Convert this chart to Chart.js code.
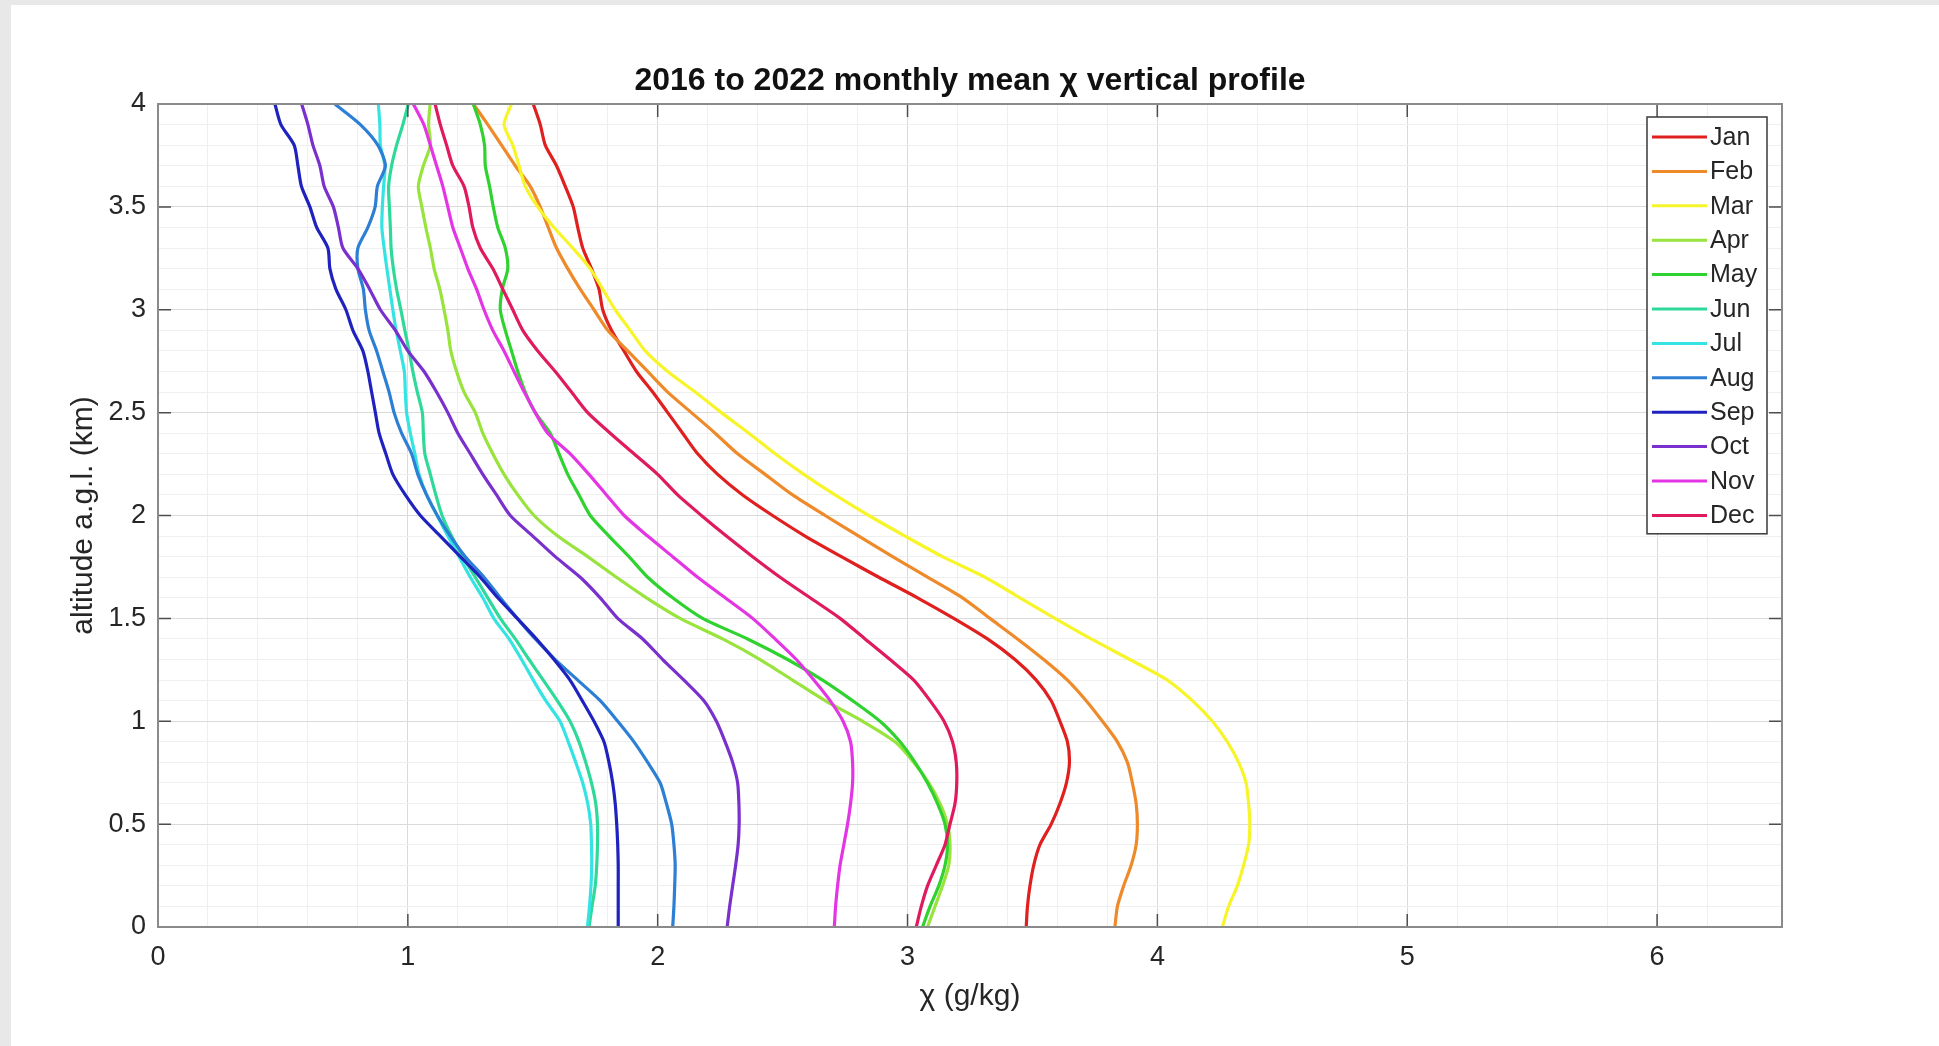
<!DOCTYPE html>
<html>
<head>
<meta charset="utf-8">
<script src="https://cdn.jsdelivr.net/npm/chart.js@4/dist/chart.umd.min.js"></script>
<style>
    html, body { margin: 0; padding: 0; background: #fff; }
    #wrap {
        position: relative;
        width: 1939px;
        height: 1046px;
        box-sizing: border-box;
        border-left: 11px solid #e8e8e8;
        border-top: 5px solid #e8e8e8;
        background: #fff;
    }
    #chart { position: absolute; left: -11px; top: -5px; }
</style>
</head>
<body>
<div id="wrap"><canvas id="chart" width="1939" height="1046"></canvas></div>
<script>
// altitude a.g.l. (km), shared by every monthly profile
const altitudes = [0, 0.1, 0.2, 0.3, 0.4, 0.5, 0.6, 0.7, 0.8, 0.9, 1.0, 1.1, 1.2, 1.3, 1.4, 1.5, 1.6, 1.7, 1.8, 1.9,
    2.0, 2.1, 2.2, 2.3, 2.4, 2.5, 2.6, 2.7, 2.8, 2.9, 3.0, 3.1, 3.2, 3.3, 3.4, 3.5, 3.6, 3.7, 3.8, 3.9, 4.0];

const months = ['Jan', 'Feb', 'Mar', 'Apr', 'May', 'Jun', 'Jul', 'Aug', 'Sep', 'Oct', 'Nov', 'Dec'];

// mixing ratio chi (g/kg) at each altitude
const jan = [3.475, 3.48, 3.49, 3.505, 3.53, 3.575, 3.61, 3.636, 3.648, 3.64, 3.61, 3.575, 3.515, 3.43, 3.32, 3.185, 3.04, 2.885, 2.735, 2.59,
    2.46, 2.34, 2.24, 2.16, 2.10, 2.04, 1.98, 1.915, 1.865, 1.815, 1.78, 1.765, 1.735, 1.70, 1.68, 1.662, 1.63, 1.595, 1.55, 1.53, 1.502];
const feb = [3.83, 3.84, 3.865, 3.895, 3.915, 3.92, 3.915, 3.90, 3.88, 3.84, 3.78, 3.715, 3.64, 3.545, 3.44, 3.33, 3.22, 3.08, 2.94, 2.805,
    2.67, 2.54, 2.43, 2.32, 2.23, 2.135, 2.04, 1.96, 1.88, 1.80, 1.745, 1.69, 1.64, 1.595, 1.562, 1.53, 1.49, 1.43, 1.375, 1.32, 1.262];
const mar = [4.26, 4.285, 4.32, 4.345, 4.365, 4.37, 4.365, 4.355, 4.325, 4.28, 4.22, 4.14, 4.04, 3.89, 3.735, 3.59, 3.45, 3.31, 3.14, 2.99,
    2.845, 2.71, 2.585, 2.47, 2.365, 2.255, 2.15, 2.04, 1.95, 1.89, 1.83, 1.78, 1.73, 1.66, 1.585, 1.52, 1.47, 1.445, 1.42, 1.385, 1.415];
const apr = [3.08, 3.11, 3.14, 3.165, 3.17, 3.16, 3.13, 3.085, 3.025, 2.95, 2.82, 2.67, 2.54, 2.41, 2.26, 2.09, 1.955, 1.835, 1.72, 1.60,
    1.505, 1.44, 1.385, 1.34, 1.30, 1.27, 1.225, 1.195, 1.172, 1.16, 1.145, 1.128, 1.105, 1.09, 1.072, 1.056, 1.042, 1.062, 1.09, 1.083, 1.089];
const may = [3.06, 3.09, 3.125, 3.15, 3.16, 3.15, 3.12, 3.08, 3.03, 2.97, 2.89, 2.78, 2.66, 2.52, 2.36, 2.18, 2.06, 1.96, 1.885, 1.805,
    1.73, 1.685, 1.64, 1.605, 1.57, 1.51, 1.47, 1.44, 1.415, 1.39, 1.37, 1.378, 1.40, 1.39, 1.36, 1.342, 1.327, 1.31, 1.307, 1.29, 1.262];
const jun = [1.725, 1.737, 1.75, 1.756, 1.759, 1.759, 1.752, 1.735, 1.712, 1.685, 1.649, 1.598, 1.542, 1.485, 1.43, 1.37, 1.32, 1.27, 1.22, 1.175,
    1.137, 1.112, 1.09, 1.068, 1.062, 1.058, 1.038, 1.02, 1.005, 0.988, 0.972, 0.955, 0.942, 0.933, 0.93, 0.926, 0.923, 0.935, 0.955, 0.98, 1.002];
const jul = [1.719, 1.727, 1.733, 1.736, 1.735, 1.732, 1.72, 1.70, 1.672, 1.642, 1.609, 1.552, 1.502, 1.455, 1.405, 1.344, 1.30, 1.25, 1.205, 1.16,
    1.117, 1.075, 1.045, 1.028, 1.01, 0.995, 0.99, 0.986, 0.97, 0.953, 0.94, 0.928, 0.916, 0.905, 0.896, 0.898, 0.903, 0.908, 0.89, 0.888, 0.882];
const aug = [2.06, 2.065, 2.068, 2.07, 2.065, 2.056, 2.035, 2.01, 1.96, 1.905, 1.84, 1.77, 1.68, 1.59, 1.51, 1.438, 1.37, 1.305, 1.23, 1.17,
    1.118, 1.075, 1.04, 1.015, 0.975, 0.945, 0.925, 0.90, 0.875, 0.845, 0.83, 0.822, 0.80, 0.80, 0.84, 0.869, 0.878, 0.91, 0.88, 0.81, 0.708];
const sep = [1.842, 1.842, 1.842, 1.842, 1.84, 1.836, 1.83, 1.82, 1.805, 1.785, 1.745, 1.698, 1.649, 1.585, 1.515, 1.438, 1.36, 1.29, 1.21, 1.13,
    1.05, 0.99, 0.94, 0.912, 0.885, 0.87, 0.855, 0.84, 0.82, 0.78, 0.752, 0.712, 0.688, 0.68, 0.635, 0.608, 0.574, 0.56, 0.545, 0.492, 0.468];
const oct = [2.278, 2.288, 2.30, 2.312, 2.322, 2.326, 2.325, 2.32, 2.30, 2.27, 2.235, 2.185, 2.105, 2.02, 1.94, 1.84, 1.77, 1.69, 1.59, 1.50,
    1.41, 1.355, 1.30, 1.25, 1.20, 1.16, 1.115, 1.065, 1.00, 0.95, 0.89, 0.847, 0.80, 0.74, 0.722, 0.702, 0.665, 0.648, 0.62, 0.60, 0.575];
const nov = [2.707, 2.712, 2.72, 2.73, 2.745, 2.76, 2.772, 2.78, 2.78, 2.772, 2.742, 2.69, 2.625, 2.555, 2.47, 2.38, 2.27, 2.16, 2.06, 1.96,
    1.866, 1.795, 1.725, 1.65, 1.56, 1.51, 1.466, 1.425, 1.385, 1.34, 1.305, 1.275, 1.24, 1.21, 1.18, 1.16, 1.14, 1.115, 1.09, 1.064, 1.022];
const dec = [3.035, 3.055, 3.08, 3.115, 3.15, 3.17, 3.19, 3.197, 3.195, 3.18, 3.146, 3.09, 3.025, 2.93, 2.83, 2.73, 2.61, 2.49, 2.38, 2.275,
    2.175, 2.08, 2.0, 1.905, 1.81, 1.72, 1.655, 1.59, 1.52, 1.46, 1.42, 1.38, 1.34, 1.29, 1.26, 1.245, 1.225, 1.18, 1.155, 1.13, 1.109];

const profiles = [jan, feb, mar, apr, may, jun, jul, aug, sep, oct, nov, dec];

const lineColors = ['#e01f1f', '#ee8a2a', '#f7f52a', '#98e33c', '#2fd22f', '#2fd99a',
    '#36e3e3', '#2c7fd4', '#1f22bf', '#7a30cc', '#e435e4', '#e01a5e'];

const chartTitle = '2016 to 2022 monthly mean \u03c7 vertical profile';

const FONT = "'Liberation Sans', Arial, sans-serif";
const TEXT = '#262626';

const isWhole = v => Math.abs(v - Math.round(v)) < 1e-6;
const isHalf = v => Math.abs(v * 2 - Math.round(v * 2)) < 1e-6;

// title centred over the plot box, not over the whole canvas
const plotTitle = {
    id: 'plotTitle',
    afterDraw(chart) {
        const {ctx, chartArea: a} = chart;
        ctx.save();
        ctx.font = 'bold 32px ' + FONT;
        ctx.fillStyle = '#111';
        ctx.textAlign = 'center';
        ctx.textBaseline = 'middle';
        ctx.fillText(chartTitle, (a.left + a.right) / 2, a.top - 23);
        ctx.restore();
    }
};

// box around the axes with inward ticks on all four sides, like matlab
const axisFrame = {
    id: 'axisFrame',
    afterDatasetsDraw(chart) {
        const {ctx, chartArea: a, scales: {x, y}} = chart;
        const len = 13;
        ctx.save();
        ctx.strokeStyle = '#4d4d4d';
        ctx.lineWidth = 1.5;
        ctx.beginPath();
        x.ticks.filter(t => isWhole(t.value) && t.value > 0 && t.value < 6.5).forEach(t => {
            const px = x.getPixelForValue(t.value);
            ctx.moveTo(px, a.bottom); ctx.lineTo(px, a.bottom - len);
            ctx.moveTo(px, a.top); ctx.lineTo(px, a.top + len);
        });
        y.ticks.filter(t => isHalf(t.value) && t.value > 0 && t.value < 4).forEach(t => {
            const py = y.getPixelForValue(t.value);
            ctx.moveTo(a.left, py); ctx.lineTo(a.left + len, py);
            ctx.moveTo(a.right, py); ctx.lineTo(a.right - len, py);
        });
        ctx.stroke();
        ctx.strokeStyle = '#8a8a8a';
        ctx.lineWidth = 2;
        ctx.strokeRect(a.left, a.top, a.right - a.left, a.bottom - a.top);
        ctx.restore();
    }
};

const monthLegend = {
    id: 'monthLegend',
    afterDraw(chart) {
        const {ctx, chartArea: a} = chart;
        const sets = chart.data.datasets;
        const rowH = 34.4;
        const w = 120;
        const h = rowH * sets.length + 4;
        const left = a.right - 15 - w;
        const top = a.top + 13;
        ctx.save();
        ctx.fillStyle = '#fff';
        ctx.fillRect(left, top, w, h);
        ctx.strokeStyle = '#3a3a3a';
        ctx.lineWidth = 1.5;
        ctx.strokeRect(left, top, w, h);
        ctx.font = '25px ' + FONT;
        ctx.textBaseline = 'middle';
        sets.forEach((ds, i) => {
            const cy = top + 20 + i * rowH;
            ctx.strokeStyle = ds.borderColor;
            ctx.lineWidth = 3;
            ctx.beginPath();
            ctx.moveTo(left + 5, cy);
            ctx.lineTo(left + 60, cy);
            ctx.stroke();
            ctx.fillStyle = TEXT;
            ctx.fillText(ds.label, left + 63, cy + 1);
        });
        ctx.restore();
    }
};

const datasets = months.map((m, i) => ({
    label: m,
    data: altitudes.map((alt, j) => ({x: profiles[i][j], y: alt})),
    borderColor: lineColors[i],
    backgroundColor: lineColors[i],
    borderWidth: 3.2,
    pointRadius: 0,
    showLine: true,
    tension: 0.25,
    order: months.length - 1 - i
}));

new Chart(document.getElementById('chart'), {
    type: 'scatter',
    data: {datasets: datasets},
    options: {
        responsive: false,
        animation: false,
        devicePixelRatio: 1,
        layout: {padding: {left: 0, right: 157, top: 104, bottom: 0}},
        plugins: {
            legend: {display: false},
            tooltip: {enabled: false},
            title: {display: false}
        },
        scales: {
            x: {
                type: 'linear',
                min: 0,
                max: 6.5,
                afterFit: s => { s.height = 119; },
                border: {display: false},
                grid: {
                    drawTicks: false,
                    lineWidth: 1,
                    color: c => isWhole(c.tick.value) ? '#dadada' : '#efefef'
                },
                ticks: {
                    stepSize: 0.2,
                    autoSkip: false,
                    maxRotation: 0,
                    padding: 14,
                    color: TEXT,
                    font: {family: FONT, size: 27},
                    callback: v => (isWhole(v) && v <= 6) ? String(Math.round(v)) : ''
                },
                title: {
                    display: true,
                    text: '\u03c7 (g/kg)',
                    color: TEXT,
                    font: {family: FONT, size: 30},
                    padding: {top: 0, bottom: 31}
                }
            },
            y: {
                type: 'linear',
                min: 0,
                max: 4,
                afterFit: s => { s.width = 158; },
                border: {display: false},
                grid: {
                    drawTicks: false,
                    lineWidth: 1,
                    color: c => isHalf(c.tick.value) ? '#dadada' : '#efefef'
                },
                ticks: {
                    stepSize: 0.1,
                    autoSkip: false,
                    padding: 12,
                    color: TEXT,
                    font: {family: FONT, size: 27},
                    callback: v => isHalf(v) ? String(Math.round(v * 10) / 10) : ''
                },
                title: {
                    display: true,
                    text: 'altitude a.g.l. (km)',
                    color: TEXT,
                    font: {family: FONT, size: 30},
                    padding: {top: 66, bottom: 0}
                }
            }
        }
    },
    plugins: [plotTitle, axisFrame, monthLegend]
});
</script>
</body>
</html>
